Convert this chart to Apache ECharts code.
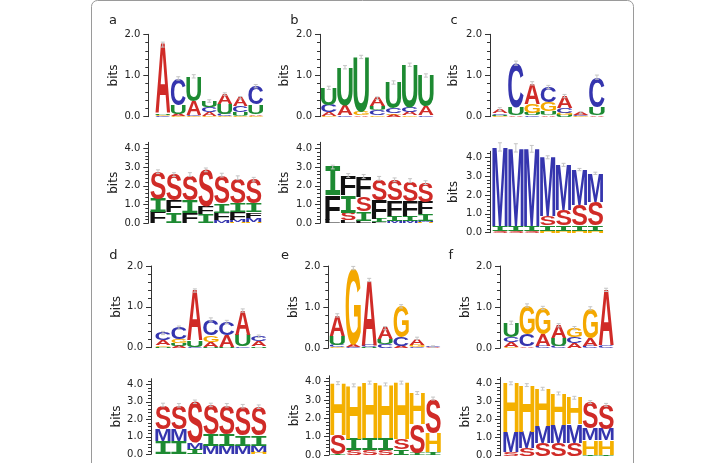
<!DOCTYPE html>
<html><head><meta charset="utf-8">
<script src="https://cdn.jsdelivr.net/npm/echarts@6/dist/echarts.min.js"></script>
<style>html,body{margin:0;padding:0;background:#fff}#c{width:724px;height:463px}</style>
</head><body><div id="c"></div>
<script>
// ---------- DATA: each column is a stack bottom -> top of [letter, bits] ----------
const rnaTicks = [0, 1, 2];
const aaTicks = [0, 1, 2, 3, 4];
const panelLabels = ['a', 'b', 'c', 'd', 'e', 'f'];

const a_rna = [
  [['C',0.02],['G',0.02],['U',0.03],['A',1.68]],
  [['G',0.02],['A',0.05],['U',0.21],['C',0.65]],
  [['G',0.02],['C',0.03],['A',0.33],['U',0.60]],
  [['G',0.02],['A',0.10],['C',0.12],['U',0.14]],
  [['G',0.02],['C',0.05],['U',0.24],['A',0.24]],
  [['G',0.02],['U',0.10],['C',0.14],['A',0.20]],
  [['G',0.02],['A',0.04],['U',0.23],['C',0.45]]
];
const a_rna_err = [0.06,0.04,0.04,0.03,0.03,0.03,0.04];
const a_aa = [
  [['F',0.58],['I',0.72],['S',1.45]],
  [['I',0.58],['F',0.62],['S',1.40]],
  [['F',0.55],['I',0.70],['S',1.35]],
  [['I',0.50],['F',0.40],['S',1.95]],
  [['M',0.15],['F',0.42],['I',0.50],['S',1.50]],
  [['H',0.06],['M',0.14],['F',0.38],['I',0.50],['S',1.35]],
  [['H',0.06],['M',0.22],['F',0.30],['I',0.47],['S',1.30]]
];
const a_aa_err = [0.1,0.1,0.1,0.1,0.1,0.1,0.1];

const b_rna = [
  [['G',0.02],['A',0.08],['C',0.18],['U',0.42]],
  [['C',0.03],['A',0.25],['U',0.92]],
  [['A',0.03],['G',0.09],['U',1.33]],
  [['G',0.03],['C',0.12],['U',0.10],['A',0.20]],
  [['A',0.05],['G',0.04],['C',0.12],['U',0.62]],
  [['G',0.03],['A',0.08],['C',0.12],['U',1.03]],
  [['C',0.04],['A',0.22],['U',0.74]]
];
const b_rna_err = [0.04,0.04,0.04,0.03,0.04,0.04,0.04];
const b_aa = [
  [['L',0.20],['F',1.30],['I',1.50]],
  [['L',0.15],['S',0.42],['I',0.93],['F',1.05]],
  [['L',0.12],['I',0.50],['S',0.78],['F',1.10]],
  [['L',0.05],['I',0.20],['F',1.00],['S',1.15]],
  [['M',0.10],['I',0.30],['F',0.82],['S',1.10]],
  [['M',0.10],['I',0.30],['F',0.80],['S',1.08]],
  [['H',0.06],['M',0.06],['I',0.35],['F',0.65],['S',1.05]]
];
const b_aa_err = [0.1,0.1,0.1,0.1,0.1,0.1,0.1];

const c_rna = [
  [['G',0.02],['U',0.03],['C',0.04],['A',0.10]],
  [['A',0.03],['U',0.20],['C',1.07]],
  [['C',0.03],['U',0.06],['G',0.22],['A',0.50]],
  [['A',0.03],['U',0.10],['G',0.22],['C',0.37]],
  [['U',0.05],['G',0.05],['C',0.12],['A',0.28]],
  [['G',0.02],['C',0.02],['A',0.06]],
  [['A',0.03],['U',0.20],['C',0.73]]
];
const c_rna_err = [0.03,0.05,0.04,0.04,0.04,0.02,0.05];
const c_aa = [
  [['S',0.10],['I',0.28],['M',4.17]],
  [['S',0.10],['I',0.28],['M',4.12]],
  [['S',0.10],['I',0.28],['M',4.07]],
  [['H',0.10],['I',0.28],['S',0.50],['M',3.12]],
  [['H',0.10],['I',0.28],['S',0.85],['M',2.37]],
  [['H',0.10],['I',0.28],['S',1.10],['M',1.87]],
  [['H',0.10],['I',0.28],['S',1.25],['M',1.52]]
];
const c_aa_err = [0.22,0.22,0.18,0.08,0.08,0.06,0.06];

const d_rna = [
  [['U',0.02],['G',0.04],['A',0.12],['C',0.18]],
  [['A',0.05],['U',0.06],['G',0.10],['C',0.28]],
  [['C',0.02],['U',0.16],['A',1.22]],
  [['U',0.02],['A',0.12],['G',0.16],['C',0.39]],
  [['U',0.02],['A',0.28],['C',0.33]],
  [['C',0.04],['U',0.27],['A',0.60]],
  [['U',0.03],['A',0.13],['C',0.12]]
];
const d_rna_err = [0.04,0.04,0.04,0.04,0.04,0.04,0.03];
const d_aa = [
  [['I',0.76],['M',0.69],['S',1.37]],
  [['I',0.76],['M',0.68],['S',1.36]],
  [['I',0.30],['M',0.35],['S',2.35]],
  [['M',0.50],['I',0.63],['S',1.69]],
  [['M',0.50],['I',0.65],['S',1.65]],
  [['M',0.50],['I',0.60],['S',1.65]],
  [['H',0.12],['M',0.35],['I',0.60],['S',1.65]]
];
const d_aa_err = [0.1,0.1,0.1,0.1,0.1,0.1,0.1];

const e_rna = [
  [['G',0.03],['C',0.05],['U',0.22],['A',0.50]],
  [['C',0.03],['A',0.05],['G',1.87]],
  [['U',0.03],['C',0.05],['A',1.58]],
  [['C',0.10],['U',0.12],['A',0.27]],
  [['A',0.05],['C',0.22],['G',0.75]],
  [['C',0.03],['G',0.06],['A',0.15]],
  [['A',0.02],['C',0.02]]
];
const e_rna_err = [0.04,0.04,0.04,0.04,0.04,0.03,0.02];
const e_aa = [
  [['I',0.04],['S',1.05],['H',2.83]],
  [['S',0.30],['I',0.60],['H',2.90]],
  [['S',0.30],['I',0.65],['H',3.00]],
  [['S',0.30],['I',0.65],['H',2.90]],
  [['I',0.30],['S',0.55],['H',3.10]],
  [['I',0.10],['S',1.60],['H',1.68]],
  [['I',0.15],['H',1.05],['S',1.88]]
];
const e_aa_err = [0.08,0.08,0.08,0.08,0.08,0.08,0.08];

const f_rna = [
  [['G',0.04],['A',0.12],['C',0.12],['U',0.34]],
  [['A',0.04],['C',0.30],['G',0.70]],
  [['C',0.05],['A',0.28],['G',0.65]],
  [['C',0.06],['U',0.20],['A',0.30]],
  [['A',0.12],['C',0.15],['G',0.22]],
  [['C',0.06],['A',0.18],['G',0.73]],
  [['C',0.06],['A',1.36]]
];
const f_rna_err = [0.04,0.04,0.04,0.04,0.04,0.04,0.04];
const f_aa = [
  [['S',0.20],['M',1.10],['H',2.70]],
  [['S',0.42],['M',0.90],['H',2.58]],
  [['S',0.70],['M',0.95],['H',2.05]],
  [['S',0.72],['M',1.00],['H',1.72]],
  [['S',0.72],['M',1.02],['H',1.46]],
  [['I',0.06],['H',0.80],['M',0.65],['S',1.45]],
  [['I',0.06],['H',0.80],['M',0.60],['S',1.35]]
];
const f_aa_err = [0.08,0.08,0.08,0.08,0.08,0.08,0.08];

// ---------- STYLE ----------
const LETTER_COLORS = {A:'#d02b27', C:'#3535ae', G:'#f4a800', U:'#1d8a32',
  S:'#d02b27', I:'#1d8a32', F:'#111111', L:'#111111', M:'#3535ae', H:'#f4b000'};
const AXIS_COLOR = '#333';
const TEXT_FONT = '"DejaVu Sans", sans-serif';

// layout (pixel positions): ax = y-axis x, x0/x1 letters extent, y0 = zero line, yTop = highest labelled tick
const logos = [
  {data:a_rna, err:a_rna_err, ticks:rnaTicks, max:2,    ax:148.3, x0:155,   x1:263.5, y0:116.7, yTop:34.3,  gap:28},
  {data:a_aa,  err:a_aa_err,  ticks:aaTicks,  max:4.32, ax:148.3, x0:150,   x1:261.7, y0:223.3, yTop:148.3, gap:28},
  {data:b_rna, err:b_rna_err, ticks:rnaTicks, max:2,    ax:320,   x0:320.7, x1:434,   y0:116.7, yTop:34.3,  gap:29},
  {data:b_aa,  err:b_aa_err,  ticks:aaTicks,  max:4.32, ax:320,   x0:325,   x1:433.3, y0:223.3, yTop:148.3, gap:29},
  {data:c_rna, err:c_rna_err, ticks:rnaTicks, max:2,    ax:490,   x0:491.7, x1:605,   y0:116.7, yTop:34.3,  gap:30},
  {data:c_aa,  err:c_aa_err,  ticks:aaTicks,  max:4.32, ax:490,   x0:492,   x1:603.3, y0:232.7, yTop:157.3, gap:30},
  {data:d_rna, err:d_rna_err, ticks:rnaTicks, max:2,    ax:151,   x0:155,   x1:266.7, y0:347.7, yTop:266,   gap:26},
  {data:d_aa,  err:d_aa_err,  ticks:aaTicks,  max:4.32, ax:151,   x0:155,   x1:266.7, y0:454.3, yTop:384.3, gap:26},
  {data:e_rna, err:e_rna_err, ticks:rnaTicks, max:2,    ax:328.3, x0:329.3, x1:441,   y0:348.3, yTop:266,   gap:28},
  {data:e_aa,  err:e_aa_err,  ticks:aaTicks,  max:4.32, ax:329,   x0:330,   x1:441,   y0:455,   yTop:381.7, gap:27},
  {data:f_rna, err:f_rna_err, ticks:rnaTicks, max:2,    ax:500,   x0:503.3, x1:614,   y0:348.3, yTop:266,   gap:26},
  {data:f_aa,  err:f_aa_err,  ticks:aaTicks,  max:4.32, ax:500,   x0:503,   x1:614,   y0:455.7, yTop:383.3, gap:26}
];
const labelPos = [[113,20.5],[294.5,20.5],[454,20.5],[113.3,255.5],[285,255.5],[450.8,255.5]];

// ---------- glyph metrics ----------
const metricCache = {};
function glyph(letter) {
  if (metricCache[letter]) return metricCache[letter];
  const font = letter === 'I' ? 'bold 200px "DejaVu Sans Mono"' : 'bold 200px "Liberation Sans"';
  const ctx = document.createElement('canvas').getContext('2d');
  ctx.font = font; ctx.textBaseline = 'middle'; ctx.textAlign = 'left';
  const m = ctx.measureText(letter);
  return (metricCache[letter] = {font, L:m.actualBoundingBoxLeft, R:m.actualBoundingBoxRight,
    A:m.actualBoundingBoxAscent, D:m.actualBoundingBoxDescent});
}

const chart = echarts.init(document.getElementById('c'), null, {renderer:'canvas'});
const option = {animation:false, backgroundColor:'#fff', grid:[], xAxis:[], yAxis:[], series:[], graphic:[]};

logos.forEach((P, gi) => {
  const topTick = P.ticks[P.ticks.length - 1];
  const k = (P.y0 - P.yTop) / topTick;
  const n = P.data.length;
  const colW = (P.x1 - P.x0) / n;
  option.grid.push({left:P.ax, top:P.y0 - P.max * k, width:P.x1 - P.ax, height:P.max * k, containLabel:false, outerBoundsMode:'none'});
  option.xAxis.push({gridIndex:gi, type:'value', min:-(P.x0 - P.ax) / colW, max:n, show:false});
  option.yAxis.push({gridIndex:gi, type:'value', min:0, max:P.max, interval:1,
    name:'bits', nameLocation:'middle', nameRotate:90, nameGap:P.gap,
    nameTextStyle:{fontFamily:TEXT_FONT, fontSize:12, color:'#222'},
    axisLine:{show:true, onZero:false, lineStyle:{color:AXIS_COLOR, width:1}},
    axisTick:{show:true, length:5, customValues:P.ticks, lineStyle:{color:AXIS_COLOR, width:1}},
    minorTick:{show:true, splitNumber:5, length:3, lineStyle:{color:AXIS_COLOR, width:1}},
    axisLabel:{customValues:P.ticks, formatter:v => v.toFixed(1), fontFamily:TEXT_FONT, fontSize:10, color:'#222', margin:8},
    splitLine:{show:false}});

  // flatten stacks
  const items = [];
  const tops = [];
  P.data.forEach((col, ci) => {
    let y = 0;
    col.forEach(([letter, h]) => { items.push({x:ci, y0:y, y1:y + h, letter}); y += h; });
    tops.push([ci + 0.5, y, P.err[ci]]);
  });
  option.series.push({type:'custom', xAxisIndex:gi, yAxisIndex:gi, clip:false, z:2,
    data:items.map(it => [it.x, it.y0, it.y1]),
    renderItem:(params, api) => {
      const it = items[params.dataIndex];
      const pBL = api.coord([it.x, it.y0]);
      const pTR = api.coord([it.x + 1, it.y1]);
      const pad = 0.4;
      const w = pTR[0] - pBL[0] - 2 * pad;
      const h = pBL[1] - pTR[1];
      if (h < 0.25) return null;
      const g = glyph(it.letter);
      const sx = w / (g.L + g.R), sy = h / (g.A + g.D);
      return {type:'text', x:pBL[0] + pad + sx * g.L, y:pTR[1] + sy * g.A, scaleX:sx, scaleY:sy,
        style:{text:it.letter, x:0, y:0, font:g.font, fill:LETTER_COLORS[it.letter],
          align:'left', textAlign:'left', verticalAlign:'middle', textVerticalAlign:'middle'}};
    }});
  option.series.push({type:'custom', xAxisIndex:gi, yAxisIndex:gi, clip:false, z:3,
    data:tops,
    renderItem:(params, api) => {
      const v = tops[params.dataIndex];
      const a = api.coord([v[0], v[1] + v[2]]);
      const b = api.coord([v[0], v[1] - v[2]]);
      const st = {stroke:'#c4c4c4', lineWidth:1};
      return {type:'group', children:[
        {type:'line', shape:{x1:a[0], y1:a[1], x2:b[0], y2:b[1]}, style:st},
        {type:'line', shape:{x1:a[0]-2, y1:a[1], x2:a[0]+2, y2:a[1]}, style:st},
        {type:'line', shape:{x1:b[0]-2, y1:b[1], x2:b[0]+2, y2:b[1]}, style:st}
      ]};
    }});
});

// frame and panel letters
option.graphic.push({type:'rect', shape:{x:91.5, y:0.5, width:542, height:500, r:6}, style:{fill:'none', stroke:'#9a9a9a', lineWidth:1}, z:0});
panelLabels.forEach((t, i) => option.graphic.push({type:'text', x:labelPos[i][0], y:labelPos[i][1],
  style:{text:t, font:'13px ' + TEXT_FONT, fill:'#222', align:'center', verticalAlign:'middle'}}));

chart.setOption(option);
</script></body></html>
